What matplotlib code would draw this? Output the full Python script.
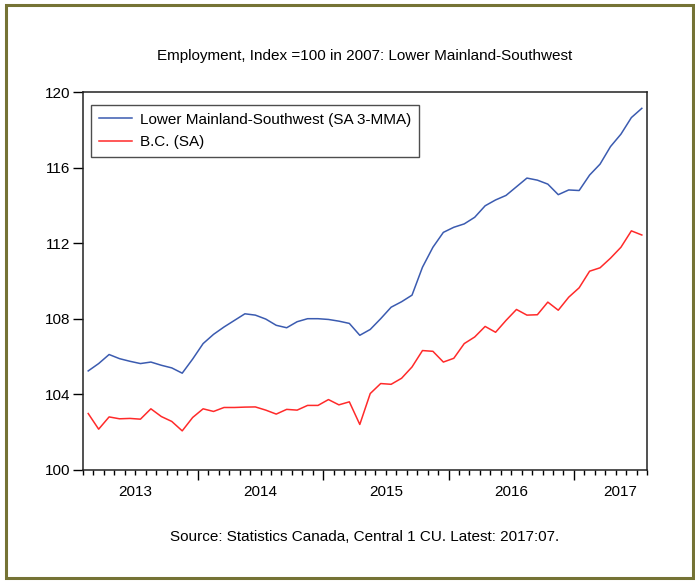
import numpy as np
import matplotlib
matplotlib.use("Agg")
import matplotlib.pyplot as plt
from matplotlib.patches import Rectangle
from matplotlib.ticker import FixedLocator, NullFormatter

# ---------- data (monthly, 2013:02 - 2017:07) ----------
lower_mainland = [
    105.23, 105.62, 106.10, 105.88, 105.74, 105.62, 105.70, 105.53, 105.39, 105.11,
    105.86, 106.68, 107.17, 107.56, 107.91, 108.26, 108.19, 107.98, 107.65, 107.52,
    107.84, 108.00, 108.00, 107.96, 107.87, 107.75, 107.12, 107.43, 108.00, 108.61,
    108.90, 109.25, 110.73, 111.79, 112.58, 112.85, 113.03, 113.38, 113.99, 114.30,
    114.54, 115.00, 115.46, 115.35, 115.14, 114.58, 114.83, 114.80, 115.62, 116.20,
    117.13, 117.79, 118.67, 119.16,
]
bc = [
    102.97, 102.14, 102.79, 102.69, 102.71, 102.67, 103.22, 102.81, 102.55, 102.05,
    102.76, 103.22, 103.08, 103.29, 103.29, 103.31, 103.32, 103.15, 102.94, 103.19,
    103.15, 103.40, 103.40, 103.71, 103.43, 103.59, 102.39, 104.03, 104.56, 104.52,
    104.84, 105.44, 106.31, 106.27, 105.70, 105.90, 106.68, 107.03, 107.59, 107.28,
    107.91, 108.49, 108.19, 108.21, 108.88, 108.45, 109.14, 109.64, 110.52, 110.70,
    111.21, 111.79, 112.66, 112.44,
]
year_labels = ["2013", "2014", "2015", "2016", "2017"]
year_label_pos = [4.5, 16.5, 28.5, 40.5, 50.9]   # month index where each label sits
year_starts = [10.5, 22.5, 34.5, 46.5]            # Jan boundaries (2014..2017)
y_ticks = [100, 104, 108, 112, 116, 120]

x = np.arange(len(lower_mainland))

# ---------- style ----------
plt.rcParams["font.family"] = ["Liberation Sans", "DejaVu Sans"]
BLUE = "#3b5bb0"
RED = "#ff2a2a"
OLIVE = "#757335"
FS = 11

fig = plt.figure(figsize=(6.95, 5.81), dpi=100)
ax = fig.add_axes([0.1194, 0.1919, 0.8116, 0.6489])

ax.plot(x, lower_mainland, color=BLUE, lw=1.1, label="Lower Mainland-Southwest (SA 3-MMA)")
ax.plot(x, bc, color=RED, lw=1.1, label="B.C. (SA)")

ax.set_xlim(-0.5, len(x) - 0.5)
ax.set_ylim(100, 120)

# y axis
ax.set_yticks(y_ticks)
ax.tick_params(axis="y", direction="out", length=7, width=1, labelsize=FS, pad=2)

# x axis: year boundaries as long ticks, months as short ticks
ax.xaxis.set_major_locator(FixedLocator(year_starts))
ax.xaxis.set_major_formatter(NullFormatter())
ax.xaxis.set_minor_locator(FixedLocator(np.arange(-0.5, len(x), 1.0)))
ax.tick_params(axis="x", which="major", direction="out", length=7, width=1)
ax.tick_params(axis="x", which="minor", direction="out", length=3.5, width=1)

for lab, pos in zip(year_labels, year_label_pos):
    ax.text(pos, -0.059, lab, transform=ax.get_xaxis_transform(),
            ha="center", va="center", fontsize=FS)

for s in ax.spines.values():
    s.set_linewidth(1.1)
    s.set_color("#222222")

leg = ax.legend(loc="upper left", bbox_to_anchor=(0.014, 0.967), fontsize=FS,
                frameon=True, fancybox=False, handlelength=2.2, handletextpad=0.5,
                borderpad=0.5, labelspacing=0.55, borderaxespad=0)
leg.get_frame().set_edgecolor("#222222")
leg.get_frame().set_linewidth(1.0)

# ---------- titles ----------
fig.text(0.525, 0.903, "Employment, Index =100 in 2007: Lower Mainland-Southwest",
         ha="center", va="center", fontsize=FS)
fig.text(0.525, 0.075, "Source: Statistics Canada, Central 1 CU. Latest: 2017:07.",
         ha="center", va="center", fontsize=FS)

# ---------- outer frame ----------
fig.patches.append(Rectangle((0.008, 0.006), 0.989, 0.986, transform=fig.transFigure,
                             fill=False, edgecolor=OLIVE, linewidth=2.2))

fig.savefig("out.png", dpi=100)
